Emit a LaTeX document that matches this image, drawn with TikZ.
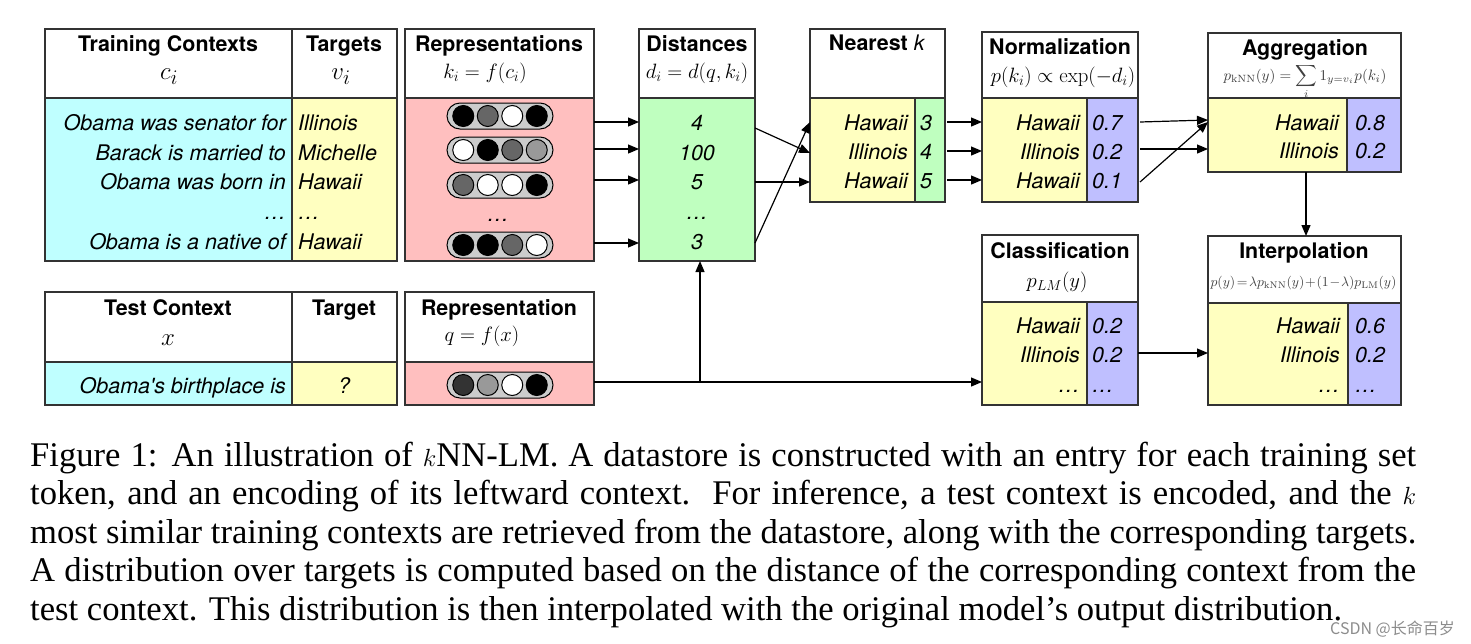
\documentclass[tikz,border=0pt]{standalone}
\usepackage[no-math]{fontspec}
\usepackage{graphicx}
\setmainfont{Liberation Serif}
\newfontfamily\hv{TeX Gyre Heros}
\newfontfamily\cjk{Noto Sans CJK SC}
\usetikzlibrary{arrows.meta,shapes.misc,calc}
\definecolor{cyanF}{RGB}{191,255,255}
\definecolor{yelF}{RGB}{255,255,192}
\definecolor{pinkF}{RGB}{255,191,191}
\definecolor{greenF}{RGB}{191,255,191}
\definecolor{blueF}{RGB}{191,191,255}
\definecolor{bordc}{RGB}{51,51,51}
\definecolor{capc}{RGB}{204,204,204}
\begin{document}
\begin{tikzpicture}[x=1pt,y=-1pt,
  cellbox/.style={draw=bordc, line width=1.2pt, inner sep=0pt, outer sep=0pt, anchor=north west},
  ttl/.style={font=\hv\bfseries\fontsize{21.4}{24}\selectfont, inner sep=0pt, anchor=base},
  itx/.style={font=\hv\itshape\fontsize{21.5}{24}\selectfont, inner sep=0pt},
  rgt/.style={itx, anchor=base east},
  lft/.style={itx, anchor=base west},
  ctr/.style={itx, anchor=base},
  mth/.style={font=\fontsize{20.5}{24}\selectfont, inner sep=0pt, anchor=base},
  bigm/.style={font=\fontsize{31}{33}\selectfont, inner sep=0pt, anchor=base},
  arr/.style={line width=1.2pt, -{Triangle[length=11pt,width=9pt]}},
  capsule/.style={draw=black, line width=1pt, fill=capc, rounded rectangle, minimum width=106pt, minimum height=26pt, inner sep=0pt},
  dot/.style={draw=black, line width=1pt, circle, minimum size=21pt, inner sep=0pt}
]
\useasboundingbox (0,0) rectangle (1471,643);

% ---------- Training contexts ----------
\node[cellbox, minimum width=247pt, minimum height=69pt] (tch) at (45,29) {};
\node[cellbox, minimum width=105pt, minimum height=69pt] (tth) at (292,29) {};
\node[cellbox, fill=cyanF, minimum width=247pt, minimum height=163pt] (tcb) at (45,98) {};
\node[cellbox, fill=yelF, minimum width=105pt, minimum height=163pt] (ttb) at (292,98) {};
\node[ttl] (tct) at (168,51) {Training Contexts};
\node[bigm] (tcm) at (169,79) {$c_i$};
\node[ttl] (ttt) at (344,51) {Targets};
\node[bigm] (ttm) at (341,79) {$v_i$};
\node[rgt] (c1) at (286,130) {Obama was senator for};
\node[rgt] (c2) at (286,160) {Barack is married to};
\node[rgt] (c3) at (286,189.5) {Obama was born in};
\node[rgt] (c4) at (286,219.5) {\ldots};
\node[rgt] (c5) at (286,249) {Obama is a native of};
\node[lft] (v1) at (298,130) {Illinois};
\node[lft] (v2) at (298,160) {Michelle};
\node[lft] (v3) at (298,189.5) {Hawaii};
\node[lft] (v4) at (298,219.5) {\ldots};
\node[lft] (v5) at (298,249) {Hawaii};

% ---------- Representations ----------
\node[cellbox, minimum width=189pt, minimum height=69pt] (rph) at (405,29) {};
\node[cellbox, fill=pinkF, minimum width=189pt, minimum height=163pt] (rpb) at (405,98) {};
\node[ttl] (rpt) at (499,51) {Representations};
\node[mth] (rpm) at (485,78) {$k_i = f(c_i)$};

\node[capsule] (k1) at (500,116) {};
\node[capsule] (k2) at (500,150) {};
\node[capsule] (k3) at (500,185) {};
\node[ctr] (k4) at (498,221) {\ldots};
\node[capsule] (k5) at (500,245) {};
\foreach \n/\a/\b/\c/\d in {k1/black/black!60/white/black, k2/white/black/black!60/black!40, k3/black!60/white/white/black, k5/black/black/black!60/white}{
  \node[dot, fill=\a] at ($(\n.center)+(-36.75,0)$) {};
  \node[dot, fill=\b] at ($(\n.center)+(-12.25,0)$) {};
  \node[dot, fill=\c] at ($(\n.center)+(12.25,0)$) {};
  \node[dot, fill=\d] at ($(\n.center)+(36.75,0)$) {};
}

% ---------- Distances ----------
\node[cellbox, minimum width=116pt, minimum height=69pt] (dsh) at (639,29) {};
\node[cellbox, fill=greenF, minimum width=116pt, minimum height=163pt] (dsb) at (639,98) {};
\node[ttl] (dst) at (697,51) {Distances};
\node[mth] (dsm) at (697,78) {$d_i = d(q,k_i)$};
\node[ctr] (d1) at (697,130) {4};
\node[ctr] (d2) at (697,160) {100};
\node[ctr] (d3) at (697,189.5) {5};
\node[ctr] (d4) at (697,219.5) {\ldots};
\node[ctr] (d5) at (697,249) {3};

% ---------- Nearest k ----------
\node[cellbox, minimum width=135pt, minimum height=69pt] (nkh) at (810,29) {};
\node[cellbox, fill=yelF, minimum width=105pt, minimum height=104pt] (nkb) at (810,98) {};
\node[cellbox, fill=greenF, minimum width=30pt, minimum height=104pt] (nkd) at (915,98) {};
\node[ttl] (nkt) at (877,50) {Nearest \textmd{\itshape k}};
\node[rgt] (n1) at (908,130) {Hawaii};
\node[rgt] (n2) at (908,159) {Illinois};
\node[rgt] (n3) at (908,188.5) {Hawaii};
\node[lft] (nd1) at (920,130) {3};
\node[lft] (nd2) at (920,159) {4};
\node[lft] (nd3) at (920,188.5) {5};

% ---------- Normalization ----------
\node[cellbox, minimum width=156pt, minimum height=66pt] (nmh) at (982,32) {};
\node[cellbox, fill=yelF, minimum width=105pt, minimum height=104pt] (nmb) at (982,98) {};
\node[cellbox, fill=blueF, minimum width=51pt, minimum height=104pt] (nmp) at (1087,98) {};
\node[ttl] (nmt) at (1060,54) {Normalization};
\node[mth] (nmm) at (1063,82) {$p(k_i) \propto \exp(-d_i)$};
\node[rgt] (m1) at (1080,130) {Hawaii};
\node[rgt] (m2) at (1080,159) {Illinois};
\node[rgt] (m3) at (1080,188.5) {Hawaii};
\node[lft] (mp1) at (1092,130) {0.7};
\node[lft] (mp2) at (1092,159) {0.2};
\node[lft] (mp3) at (1092,188.5) {0.1};

% ---------- Aggregation ----------
\node[cellbox, minimum width=193pt, minimum height=65pt] (agh) at (1208,33) {};
\node[cellbox, fill=yelF, minimum width=139pt, minimum height=74pt] (agb) at (1208,98) {};
\node[cellbox, fill=blueF, minimum width=54pt, minimum height=74pt] (agp) at (1347,98) {};
\node[ttl] (agt) at (1305,55) {Aggregation};
\node[inner sep=0pt, anchor=base, text=black!75] (agm) at (1305,80) {\resizebox{163pt}{!}{$\displaystyle p_{\mathrm{kNN}}(y) = \sum_i 1_{y=v_i} p(k_i)$}};
\node[rgt] (a1) at (1339,130) {Hawaii};
\node[rgt] (a2) at (1339,158.5) {Illinois};
\node[lft] (ap1) at (1355,130) {0.8};
\node[lft] (ap2) at (1355,158.5) {0.2};

% ---------- Test context ----------
\node[cellbox, minimum width=247pt, minimum height=70pt] (xch) at (45,292) {};
\node[cellbox, minimum width=105pt, minimum height=70pt] (xth) at (292,292) {};
\node[cellbox, fill=cyanF, minimum width=247pt, minimum height=43pt] (xcb) at (45,362) {};
\node[cellbox, fill=yelF, minimum width=105pt, minimum height=43pt] (xtb) at (292,362) {};
\node[ttl] (xct) at (168,315) {Test Context};
\node[bigm] (xcm) at (168,345) {$x$};
\node[ttl] (xtt) at (344,315) {Target};
\node[rgt] (xc1) at (286,393.5) {Obama's birthplace is};
\node[ctr] (xt1) at (344,393.5) {?};

% ---------- Representation ----------
\node[cellbox, minimum width=189pt, minimum height=70pt] (qh) at (405,292) {};
\node[cellbox, fill=pinkF, minimum width=189pt, minimum height=43pt] (qb) at (405,362) {};
\node[ttl] (qt) at (499,315) {Representation};
\node[mth] (qm) at (482,341) {$q = f(x)$};
\node[capsule] (qv) at (500,385) {};
\node[dot, fill=black!80] at ($(qv.center)+(-36.75,0)$) {};
\node[dot, fill=black!40] at ($(qv.center)+(-12.25,0)$) {};
\node[dot, fill=white] at ($(qv.center)+(12.25,0)$) {};
\node[dot, fill=black] at ($(qv.center)+(36.75,0)$) {};

% ---------- Classification ----------
\node[cellbox, minimum width=156pt, minimum height=67pt] (clh) at (982,235) {};
\node[cellbox, fill=yelF, minimum width=105pt, minimum height=103pt] (clb) at (982,302) {};
\node[cellbox, fill=blueF, minimum width=51pt, minimum height=103pt] (clp) at (1087,302) {};
\node[ttl] (clt) at (1060,258) {Classification};
\node[inner sep=0pt, anchor=base, font=\fontsize{22}{24}\selectfont] (clm) at (1057,287) {$p_{LM}(y)$};
\node[rgt] (l1) at (1080,333) {Hawaii};
\node[rgt] (l2) at (1080,362) {Illinois};
\node[rgt] (l3) at (1080,392) {\ldots};
\node[lft] (lp1) at (1092,333) {0.2};
\node[lft] (lp2) at (1092,362) {0.2};
\node[lft] (lp3) at (1092,392) {\ldots};

% ---------- Interpolation ----------
\node[cellbox, minimum width=193pt, minimum height=67pt] (inh) at (1208,236) {};
\node[cellbox, fill=yelF, minimum width=140pt, minimum height=102pt] (inb) at (1208,303) {};
\node[cellbox, fill=blueF, minimum width=53pt, minimum height=102pt] (inp) at (1348,303) {};
\node[ttl] (int) at (1304,258) {Interpolation};
\node[inner sep=0pt, anchor=base, text=black!75] (inm) at (1303.5,286) {\resizebox{186pt}{!}{$p(y)\!=\!\lambda p_{\mathrm{kNN}}(y)\!+\!(1\!-\!\lambda)p_{\mathrm{LM}}(y)$}};
\node[rgt] (i1) at (1340,333) {Hawaii};
\node[rgt] (i2) at (1340,362) {Illinois};
\node[rgt] (i3) at (1340,392) {\ldots};
\node[lft] (ip1) at (1355,333) {0.6};
\node[lft] (ip2) at (1355,362) {0.2};
\node[lft] (ip3) at (1355,392) {\ldots};

% ---------- connectors ----------
\coordinate (ya) at (0,122);
\coordinate (yb) at (0,149);
\coordinate (yc) at (0,180);
\coordinate (yd) at (0,243);
\coordinate (ye) at (0,128);
\coordinate (yf) at (0,153);
\coordinate (yg) at (0,151);
\coordinate (yh) at (0,182);
\coordinate (yi) at (0,120);
\coordinate (yj) at (0,353);
\coordinate (yk) at (0,382);
\coordinate (split) at (700,382);
\coordinate (xv) at (1306,0);

\draw[arr] (rpb.east |- ya) -- (dsb.west |- ya);
\draw[arr] (rpb.east |- yb) -- (dsb.west |- yb);
\draw[arr] (rpb.east |- yc) -- (dsb.west |- yc);
\draw[arr] (rpb.east |- yd) -- (dsb.west |- yd);

\draw[arr] (dsb.east |- ye) -- (nkb.west |- yf);
\draw[arr] (dsb.east |- yh) -- (nkb.west |- yh);
\draw[arr] (dsb.east |- yd) -- (nkb.west |- ya);

\draw[arr] ([xshift=2pt]nkd.east |- ya) -- (nmb.west |- ya);
\draw[arr] ([xshift=2pt]nkd.east |- yg) -- (nmb.west |- yg);
\draw[arr] ([xshift=2pt]nkd.east |- yc) -- (nmb.west |- yc);

\draw[arr] ([xshift=2pt]nmp.east |- ya) -- (agb.west |- yi);
\draw[arr] ([xshift=2pt]nmp.east |- yb) -- (agb.west |- yb);
\draw[arr] ([xshift=2pt]nmp.east |- yh) -- (agb.west |- ya);

\draw[arr] (agb.south -| xv) -- (inh.north -| xv);
\draw[arr] (clp.east |- yj) -- (inb.west |- yj);

\draw[arr] (qb.east |- yk) -- (clb.west |- yk);
\draw[arr] (split) -- (dsb.south -| split);

% ---------- caption ----------
\begin{scope}[every node/.style={inner sep=0pt, anchor=base west, font=\fontsize{34.6}{38.4}\selectfont}]
\node (cap1) at (30,466) {\makebox[1386pt][s]{Figure 1: An illustration of $k$NN-LM. A datastore is constructed with an entry for each training set}};
\node (cap2) at (30,504.5) {\makebox[1386pt][s]{token, and an encoding of its leftward context.\ \ For inference, a test context is encoded, and the $k$}};
\node (cap3) at (30,543) {\makebox[1386pt][s]{most similar training contexts are retrieved from the datastore, along with the corresponding targets.}};
\node (cap4) at (30,581.5) {\makebox[1386pt][s]{A distribution over targets is computed based on the distance of the corresponding context from the}};
\node (cap5) at (30,620) {test context. This distribution is then interpolated with the original model's output distribution.};
\end{scope}
\node[inner sep=0pt, anchor=base east, text=black!45, font=\cjk\fontsize{16}{18}\selectfont] (wm) at (1455,634) {CSDN @长命百岁};
\end{tikzpicture}
\end{document}
